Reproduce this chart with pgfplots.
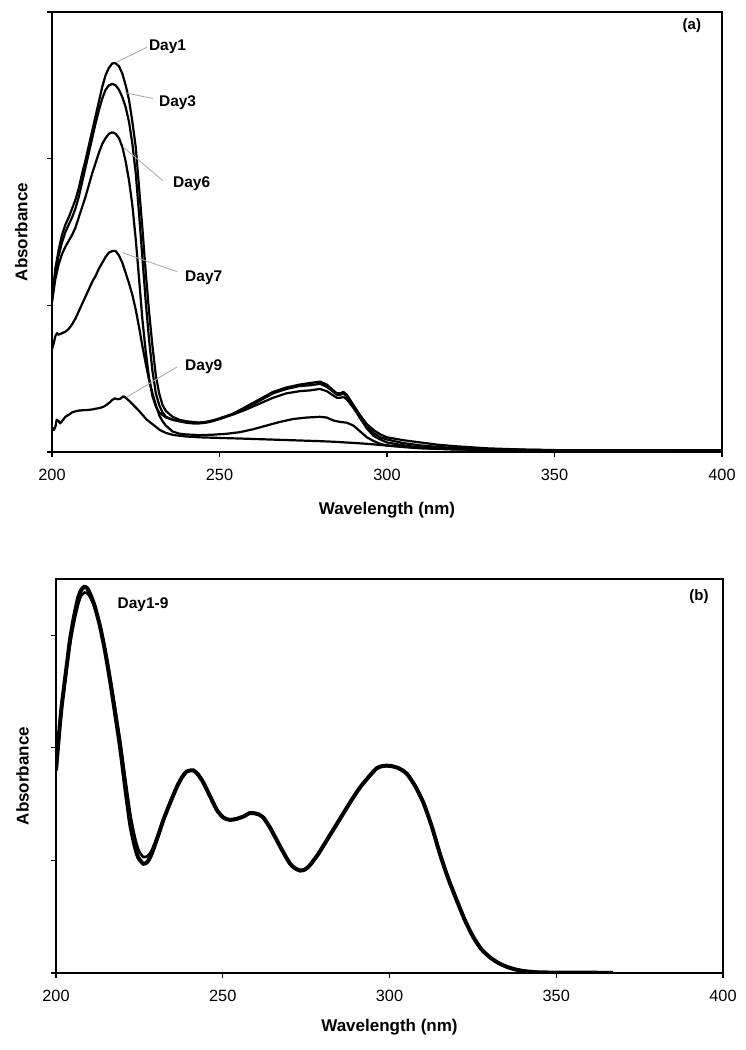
\documentclass[border=0pt]{standalone}
\usepackage{fontspec}
\setmainfont{Liberation Sans}
\usepackage{pgfplots}
\pgfplotsset{compat=1.18}

\pgfplotsset{
  specstyle/.style={
    scale only axis,
    xmin=200, xmax=400,
    xtick={200,250,300,350,400},
    xtick pos=bottom, ytick pos=left,
    tick align=outside,
    major tick length=5pt,
    every tick/.style={black, line width=1.2pt},
    yticklabels={},
    axis line style={line width=1.8pt},
    /pgf/number format/assume math mode=true,
    /pgf/number format/1000 sep={},
    xticklabel style={font=\fontsize{16.3}{18}\selectfont, yshift=-8.5pt},
    xlabel={\bfseries Wavelength (nm)},
    ylabel={\bfseries Absorbance},
    label style={font=\fontsize{17}{19}\selectfont},
  },
  sA/.style={black, no markers, line width=2.2pt, line join=round},
  sB/.style={black, no markers, line width=4pt, smooth, tension=0.4},
}

\begin{document}
\begin{tikzpicture}[x=1pt,y=1pt]
\useasboundingbox (0,0) rectangle (745,-1050);

% ---------------- panel (a) ----------------
\begin{axis}[specstyle,
  at={(52pt,-452pt)}, anchor=south west,
  width=670pt, height=440pt,
  ymin=0, ymax=3, ytick={0,1,2,3},
  xlabel style={at={(axis description cs:0.5,-0.132)}, anchor=center},
  ylabel style={at={(axis description cs:-0.046,0.5)}, anchor=center, rotate=0},
]
% Day1
\addplot[sA] coordinates {(200,1.04)(201,1.25)(202,1.38)(203,1.48)(204,1.55)(205,1.60)(206,1.66)(207,1.72)(208,1.80)(209,1.90)(210,1.99)(211,2.09)(212,2.19)(213,2.29)(214,2.39)(215,2.49)(216,2.57)(217,2.62)(218,2.65)(219,2.65)(220,2.63)(221,2.58)(222,2.50)(223,2.40)(224,2.25)(225,2.08)(226,1.80)(227,1.52)(228,1.22)(229,0.95)(230,0.72)(231,0.52)(232,0.40)(233,0.32)(234,0.28)(236,0.24)(238,0.22)(240,0.21)(242,0.205)(244,0.20)(246,0.205)(248,0.215)(250,0.23)(254,0.26)(258,0.31)(262,0.36)(266,0.41)(270,0.44)(274,0.46)(277,0.47)(280,0.48)(282,0.46)(284,0.42)(285,0.40)(286,0.40)(287,0.41)(288,0.39)(290,0.32)(292,0.25)(294,0.19)(296,0.15)(298,0.12)(300,0.10)(305,0.08)(310,0.065)(315,0.05)(320,0.04)(330,0.025)(340,0.017)(350,0.013)(400,0.01)};
% Day3
\addplot[sA] coordinates {(200,1.04)(201,1.22)(202,1.34)(203,1.43)(204,1.50)(205,1.55)(206,1.60)(207,1.66)(208,1.74)(209,1.84)(210,1.94)(211,2.04)(212,2.14)(213,2.24)(214,2.33)(215,2.41)(216,2.47)(217,2.50)(218,2.51)(219,2.50)(220,2.47)(221,2.42)(222,2.35)(223,2.25)(224,2.10)(225,1.90)(226,1.62)(227,1.32)(228,1.02)(229,0.76)(230,0.55)(231,0.40)(232,0.32)(233,0.27)(234,0.24)(236,0.22)(238,0.21)(240,0.20)(242,0.195)(244,0.195)(246,0.20)(248,0.21)(250,0.225)(254,0.26)(258,0.30)(262,0.35)(266,0.40)(270,0.43)(274,0.45)(277,0.455)(280,0.465)(282,0.445)(284,0.41)(285,0.39)(286,0.39)(287,0.40)(288,0.38)(290,0.31)(292,0.23)(294,0.16)(296,0.11)(298,0.085)(300,0.065)(305,0.045)(310,0.03)(320,0.02)(330,0.014)(350,0.011)(400,0.009)};
% Day6
\addplot[sA] coordinates {(200,1.02)(201,1.18)(202,1.28)(203,1.35)(204,1.40)(205,1.44)(206,1.48)(207,1.53)(208,1.60)(209,1.67)(210,1.74)(211,1.82)(212,1.90)(213,1.97)(214,2.04)(215,2.10)(216,2.14)(217,2.17)(218,2.18)(219,2.17)(220,2.14)(221,2.08)(222,1.98)(223,1.85)(224,1.68)(225,1.45)(226,1.18)(227,0.90)(228,0.68)(229,0.50)(230,0.38)(231,0.31)(232,0.27)(234,0.235)(236,0.22)(238,0.21)(240,0.205)(242,0.20)(244,0.20)(246,0.205)(248,0.215)(250,0.225)(254,0.255)(258,0.29)(262,0.33)(266,0.37)(270,0.40)(274,0.415)(277,0.42)(280,0.43)(282,0.415)(284,0.385)(285,0.37)(286,0.37)(287,0.375)(288,0.36)(290,0.30)(292,0.23)(294,0.17)(296,0.13)(298,0.10)(300,0.085)(305,0.06)(310,0.045)(315,0.035)(320,0.027)(330,0.018)(350,0.012)(400,0.01)};
% Day7
\addplot[sA] coordinates {(200,0.70)(200.5,0.74)(201,0.79)(201.5,0.81)(202,0.80)(203,0.81)(204,0.82)(205,0.84)(206,0.87)(207,0.91)(208,0.96)(209,1.01)(210,1.06)(211,1.11)(212,1.16)(213,1.20)(214,1.25)(215,1.29)(216,1.33)(217,1.36)(218,1.37)(219,1.37)(220,1.34)(221,1.29)(222,1.22)(223,1.15)(224,1.07)(225,0.97)(226,0.85)(227,0.72)(228,0.60)(229,0.49)(230,0.40)(231,0.32)(232,0.25)(233,0.21)(234,0.18)(236,0.14)(238,0.125)(240,0.12)(244,0.115)(248,0.118)(252,0.124)(256,0.135)(260,0.155)(264,0.18)(268,0.205)(272,0.225)(276,0.235)(280,0.24)(282,0.235)(284,0.215)(286,0.205)(288,0.20)(290,0.18)(292,0.14)(294,0.10)(296,0.075)(298,0.055)(300,0.045)(305,0.035)(310,0.03)(320,0.02)(350,0.012)(400,0.01)};
% Day9
\addplot[sA] coordinates {(200,0.17)(200.5,0.15)(201,0.17)(201.4,0.22)(202,0.21)(202.4,0.195)(203,0.21)(204,0.24)(205.4,0.26)(206,0.27)(207.4,0.28)(209,0.285)(210.3,0.286)(212,0.29)(213,0.295)(214.3,0.30)(215.5,0.31)(216.5,0.325)(217.3,0.34)(218,0.355)(218.8,0.366)(219.5,0.36)(220.3,0.362)(221.3,0.38)(222,0.37)(223,0.35)(224.3,0.32)(226,0.28)(228.3,0.22)(230,0.19)(232.2,0.15)(234,0.13)(236.2,0.116)(240,0.106)(244.2,0.10)(250,0.096)(256,0.092)(264,0.086)(272,0.08)(280,0.074)(284,0.07)(290,0.062)(294,0.056)(298,0.048)(302,0.04)(306,0.032)(310,0.025)(320,0.017)(340,0.012)(400,0.008)};

% annotations
\draw[gray!70, line width=0.8pt] (axis cs:219.4,2.66) -- (axis cs:228.4,2.76);
\draw[gray!70, line width=0.8pt] (axis cs:221.8,2.45) -- (axis cs:230.1,2.41);
\draw[gray!70, line width=0.8pt] (axis cs:221.2,2.08) -- (axis cs:233.1,1.85);
\draw[gray!70, line width=0.8pt] (axis cs:220.9,1.36) -- (axis cs:237.3,1.23);
\draw[gray!70, line width=0.8pt] (axis cs:222.4,0.375) -- (axis cs:237.3,0.58);
\node[anchor=west, inner sep=1pt, font=\fontsize{15.5}{17}\selectfont\bfseries] at (axis cs:228.6,2.76) {Day1};
\node[anchor=west, inner sep=1pt, font=\fontsize{15.5}{17}\selectfont\bfseries] at (axis cs:231.6,2.38) {Day3};
\node[anchor=west, inner sep=1pt, font=\fontsize{15.5}{17}\selectfont\bfseries] at (axis cs:235.8,1.83) {Day6};
\node[anchor=west, inner sep=1pt, font=\fontsize{15.5}{17}\selectfont\bfseries] at (axis cs:239.4,1.19) {Day7};
\node[anchor=west, inner sep=1pt, font=\fontsize{15.5}{17}\selectfont\bfseries] at (axis cs:239.4,0.58) {Day9};
\node[font=\fontsize{15}{17}\selectfont\bfseries] at (axis cs:391,2.91) {(a)};
\end{axis}

% ---------------- panel (b) ----------------
\begin{axis}[specstyle,
  at={(56pt,-973pt)}, anchor=south west,
  width=667pt, height=394pt,
  ymin=0, ymax=3.5, ytick={0,1,2,3},
  xlabel style={at={(axis description cs:0.5,-0.137)}, anchor=center},
  ylabel style={at={(axis description cs:-0.05,0.5)}, anchor=center, rotate=0},
]
\addplot[sB] coordinates {(200,1.80)(201,2.15)(201.7,2.37)(203,2.68)(204.2,2.96)(205.5,3.18)(206.7,3.34)(207.5,3.40)(208.4,3.43)(209.3,3.42)(210.2,3.37)(211.5,3.27)(213.2,3.08)(214.7,2.86)(216.2,2.60)(217.7,2.31)(219.2,2.01)(220.7,1.66)(222.2,1.33)(223.5,1.14)(224.6,1.03)(226.2,0.97)(227.5,0.99)(228.7,1.06)(230.5,1.21)(232.2,1.36)(234.2,1.51)(236.2,1.65)(237.8,1.74)(239.2,1.79)(241.2,1.80)(242.7,1.76)(244.2,1.69)(246.2,1.57)(248.2,1.45)(250.2,1.38)(252.2,1.36)(254.2,1.37)(256.2,1.39)(258,1.42)(259.2,1.42)(260.7,1.41)(262.2,1.38)(264.2,1.29)(266.2,1.18)(268.2,1.07)(270.2,0.97)(271.7,0.93)(273.2,0.91)(274.7,0.92)(276.2,0.96)(278.7,1.06)(281.2,1.18)(283.7,1.30)(286.2,1.42)(288.7,1.54)(291.2,1.65)(293.7,1.74)(296.2,1.82)(298.2,1.84)(300.2,1.84)(302.7,1.82)(305.2,1.77)(307.7,1.66)(310.2,1.51)(312.7,1.30)(315.1,1.06)(317.6,0.84)(320.1,0.65)(322.6,0.47)(325.1,0.32)(327.6,0.21)(330.1,0.14)(332.6,0.09)(335.1,0.056)(337.6,0.033)(340.1,0.018)(343,0.009)(346,0.005)(355,0.003)(367,0.002)};
\addplot[sB, line width=2.6pt] coordinates {(200,1.82)(201,2.16)(201.7,2.36)(203,2.66)(204.2,2.92)(205.5,3.13)(206.7,3.28)(207.5,3.35)(208.6,3.38)(209.5,3.37)(210.4,3.33)(211.7,3.24)(213.4,3.06)(214.9,2.85)(216.4,2.60)(217.9,2.32)(219.4,2.03)(220.9,1.70)(222.4,1.39)(223.7,1.20)(224.8,1.09)(226.2,1.03)(227.5,1.04)(228.7,1.09)(230.5,1.22)(232.2,1.36)(234.2,1.51)(236.2,1.65)(237.8,1.74)(239.2,1.79)(241.2,1.80)(242.7,1.76)(244.2,1.69)(246.2,1.57)(248.2,1.45)(250.2,1.38)(252.2,1.36)(254.2,1.37)(256.2,1.39)(258,1.42)(259.2,1.42)(260.7,1.41)(262.2,1.38)(264.2,1.29)(266.2,1.18)(268.2,1.07)(270.2,0.97)(271.7,0.93)(273.2,0.91)(274.7,0.92)(276.2,0.96)(278.7,1.06)(281.2,1.18)(283.7,1.30)(286.2,1.42)(288.7,1.54)(291.2,1.65)(293.7,1.74)(296.2,1.82)(298.2,1.84)(300.2,1.84)(302.7,1.82)(305.2,1.77)(307.7,1.66)(310.2,1.51)(312.7,1.30)(315.1,1.06)(317.6,0.84)(320.1,0.65)(322.6,0.47)(325.1,0.32)(327.6,0.21)(330.1,0.14)(332.6,0.09)(335.1,0.056)(337.6,0.033)(340.1,0.018)(343,0.009)(346,0.005)(355,0.003)(367,0.002)};
\node[font=\fontsize{15.5}{17}\selectfont\bfseries] at (axis cs:226.1,3.27) {Day1-9};
\node[font=\fontsize{15}{17}\selectfont\bfseries] at (axis cs:392.8,3.34) {(b)};
\end{axis}
\end{tikzpicture}
\end{document}
